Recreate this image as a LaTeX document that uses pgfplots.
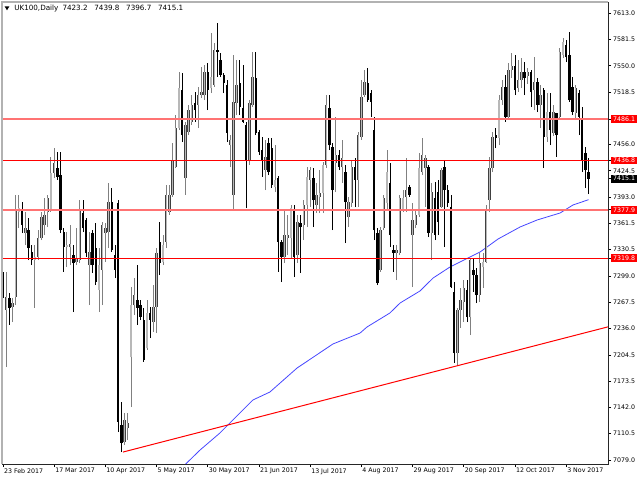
\documentclass[border=0pt]{standalone}
\usepackage{fontspec}
\usepackage{pgfplots}
\usepackage{pgfplotstable}
\pgfplotsset{compat=1.18}
\setmainfont{DejaVu Sans}
\newcommand\lf{\fontsize{4.7}{5}\selectfont}
\newcommand\tf{\fontsize{5.4}{6}\selectfont}
\newcommand\lbox[2]{{\setlength\fboxsep{1.2pt}\colorbox{#1}{\textcolor{white}{#2}}}}
\definecolor{bullc}{gray}{0.5}
\definecolor{bullin}{gray}{0.72}
\definecolor{maBlue}{RGB}{70,70,255}
\definecolor{lvl}{RGB}{255,0,0}
\definecolor{lvlp}{RGB}{255,115,115}

\pgfplotstableread{
i o h l c
1 7258.2 7303.6 7190.1 7273.7
3 7261.7 7272.5 7243.8 7266.5
4 7273.7 7395.6 7264.1 7377.6
5 7375.2 7395.6 7356.1 7380.0
7 7350.1 7375.2 7335.8 7356.1
10 7317.9 7335.8 7260.6 7321.5
11 7321.5 7353.7 7317.9 7344.2
12 7344.2 7375.2 7341.8 7369.3
13 7359.7 7392.0 7347.7 7371.7
14 7375.2 7395.6 7357.3 7392.0
15 7377.6 7441.0 7375.2 7421.8
16 7421.8 7451.7 7415.9 7433.8
20 7333.4 7351.3 7309.5 7335.8
21 7333.4 7359.7 7311.9 7337.0
23 7315.5 7356.1 7311.9 7320.3
24 7317.9 7389.6 7314.3 7377.6
27 7311.9 7351.3 7264.1 7327.5
30 7282.1 7332.2 7255.8 7311.9
31 7306.0 7363.3 7264.1 7359.7
32 7350.1 7362.1 7315.5 7356.1
33 7351.3 7409.9 7332.2 7387.2
38 7100.5 7135.1 7096.9 7126.8
39 7117.2 7135.1 7102.9 7123.2
40 7202.0 7285.6 7142.3 7264.1
41 7264.1 7296.4 7252.2 7276.1
45 7212.8 7270.1 7210.4 7254.6
47 7243.8 7288.0 7231.9 7261.7
48 7261.7 7332.2 7230.7 7326.3
50 7315.5 7347.7 7311.9 7335.8
51 7339.4 7407.5 7332.2 7395.6
52 7375.2 7407.5 7371.7 7395.6
53 7395.6 7457.7 7393.2 7437.4
54 7429.0 7491.1 7427.8 7475.6
55 7475.6 7542.5 7473.2 7523.4
57 7415.9 7482.8 7395.6 7479.2
58 7470.8 7503.1 7467.2 7497.1
59 7482.8 7515.0 7479.2 7503.1
61 7503.1 7524.6 7475.6 7515.0
62 7515.0 7548.5 7511.4 7518.6
63 7515.0 7550.9 7509.0 7542.5
65 7523.4 7589.1 7517.4 7536.5
66 7527.0 7577.1 7524.6 7568.8
71 7455.3 7467.2 7429.0 7461.3
72 7395.6 7562.8 7377.6 7506.7
73 7505.5 7556.8 7491.1 7527.0
77 7437.4 7509.0 7431.4 7505.5
78 7503.1 7566.4 7500.7 7536.5
82 7425.4 7461.3 7401.5 7441.0
85 7405.1 7455.3 7399.1 7413.5
88 7321.5 7377.6 7314.3 7347.7
89 7344.2 7371.7 7323.9 7347.7
90 7344.2 7383.6 7320.3 7380.0
92 7323.9 7371.7 7314.3 7363.3
94 7359.7 7389.6 7341.8 7383.6
95 7383.6 7429.0 7357.3 7417.1
96 7413.5 7429.0 7381.2 7425.4
98 7383.6 7409.9 7374.0 7395.6
99 7393.2 7425.4 7374.0 7397.9
100 7397.9 7435.0 7374.0 7431.4
101 7431.4 7515.0 7427.8 7503.1
104 7433.8 7488.7 7399.1 7443.3
106 7429.0 7461.3 7409.9 7439.8
108 7369.3 7393.2 7357.3 7387.2
109 7386.0 7437.4 7381.2 7429.0
111 7413.5 7470.8 7381.2 7467.2
112 7464.8 7532.9 7461.3 7512.6
113 7515.0 7544.9 7512.6 7530.5
118 7306.0 7357.3 7303.6 7353.7
119 7356.1 7395.6 7353.7 7392.0
120 7386.0 7449.3 7377.6 7423.0
123 7326.3 7335.8 7294.0 7329.9
124 7326.3 7395.6 7323.9 7392.0
125 7377.6 7401.5 7375.2 7392.0
126 7393.2 7439.8 7375.2 7401.5
128 7347.7 7386.0 7285.6 7365.7
129 7359.7 7377.6 7356.1 7371.7
130 7371.7 7445.7 7369.3 7427.8
131 7423.0 7463.7 7419.4 7443.3
132 7427.8 7443.3 7381.2 7439.8
134 7350.1 7409.9 7317.9 7399.1
137 7381.2 7427.8 7380.0 7425.4
142 7206.8 7260.6 7192.5 7258.2
143 7258.2 7284.4 7236.7 7270.1
144 7267.7 7294.0 7243.8 7284.4
146 7249.8 7320.3 7228.3 7317.9
149 7276.1 7326.3 7267.7 7314.3
150 7309.5 7326.3 7284.4 7315.5
151 7315.5 7383.6 7314.3 7377.6
152 7389.6 7441.0 7375.2 7427.8
153 7427.8 7470.8 7423.0 7464.8
155 7463.7 7515.0 7455.3 7509.0
156 7509.0 7532.9 7503.1 7524.6
158 7488.7 7553.2 7485.2 7544.9
159 7544.9 7565.2 7535.3 7549.7
161 7523.4 7556.8 7518.6 7532.9
162 7532.9 7559.2 7523.4 7542.5
164 7537.7 7547.3 7528.2 7542.5
166 7521.0 7560.4 7497.1 7530.5
168 7503.1 7527.0 7475.6 7515.0
170 7464.8 7517.4 7458.9 7494.7
172 7469.6 7503.1 7466.0 7494.7
174 7488.7 7571.2 7487.5 7566.4
175 7562.8 7583.1 7559.2 7578.3
179 7493.5 7527.0 7487.5 7523.4
}\bull

\pgfplotstableread{
i o h l c
0 7303.6 7311.9 7228.3 7272.5
2 7272.5 7278.5 7240.3 7260.6
6 7377.6 7387.2 7350.1 7359.7
8 7353.7 7368.1 7317.9 7332.2
9 7327.5 7335.8 7311.9 7317.9
17 7427.8 7446.9 7413.5 7417.1
18 7419.4 7446.9 7350.1 7353.7
19 7351.3 7356.1 7303.6 7333.4
22 7323.9 7335.8 7255.8 7314.3
25 7374.0 7389.6 7351.3 7356.1
26 7365.7 7368.1 7321.5 7326.3
28 7350.1 7353.7 7302.4 7311.9
29 7332.2 7362.1 7288.0 7291.6
34 7387.2 7403.9 7327.5 7329.9
35 7323.9 7335.8 7296.4 7306.0
36 7386.0 7389.6 7112.4 7124.4
37 7120.8 7148.3 7088.5 7099.3
42 7270.1 7311.9 7240.3 7260.6
43 7264.1 7270.1 7246.2 7249.8
44 7246.2 7260.6 7196.1 7198.5
46 7254.6 7261.7 7224.7 7246.2
49 7339.4 7363.3 7300.0 7314.3
56 7521.0 7541.3 7458.9 7467.2
60 7505.5 7518.6 7482.8 7497.1
64 7542.5 7553.2 7497.1 7521.0
67 7568.8 7601.0 7536.5 7566.4
68 7556.8 7565.2 7536.5 7538.9
69 7538.9 7541.3 7517.4 7529.3
70 7527.0 7532.9 7458.9 7469.6
74 7529.3 7556.8 7491.1 7500.7
75 7499.5 7550.9 7481.6 7482.8
76 7479.2 7482.8 7380.0 7437.4
79 7535.3 7566.4 7467.2 7469.6
80 7470.8 7473.2 7443.3 7446.9
81 7449.3 7464.8 7417.1 7437.4
83 7457.7 7463.7 7419.4 7423.0
84 7451.7 7463.7 7403.9 7407.5
86 7415.9 7418.3 7303.6 7339.4
87 7339.4 7341.8 7291.6 7321.5
91 7377.6 7383.6 7297.6 7321.5
93 7362.1 7371.7 7302.4 7357.3
97 7415.9 7427.8 7357.3 7389.6
102 7499.5 7515.0 7449.3 7455.3
103 7452.9 7457.7 7353.7 7401.5
105 7443.3 7449.3 7425.4 7429.0
107 7423.0 7431.4 7338.2 7387.2
110 7429.0 7439.8 7381.2 7413.5
114 7529.3 7547.3 7506.7 7509.0
115 7517.4 7521.0 7488.7 7506.7
116 7473.2 7488.7 7341.8 7353.7
117 7350.1 7356.1 7288.0 7290.4
121 7409.9 7433.8 7333.4 7347.7
122 7329.9 7335.8 7303.6 7326.3
127 7405.1 7407.5 7393.2 7395.6
133 7429.0 7431.4 7345.4 7350.1
135 7392.0 7411.1 7341.8 7347.7
136 7399.1 7413.5 7347.7 7363.3
138 7429.0 7437.4 7333.4 7401.5
139 7401.5 7407.5 7381.2 7386.0
140 7381.2 7395.6 7284.4 7285.6
141 7279.7 7291.6 7194.9 7206.8
145 7282.1 7294.0 7243.8 7249.8
147 7306.0 7320.3 7279.7 7300.0
148 7300.0 7308.3 7266.5 7276.1
154 7467.2 7475.6 7451.7 7463.7
157 7524.6 7538.9 7482.8 7488.7
160 7549.7 7562.8 7515.0 7521.0
163 7542.5 7554.4 7515.0 7535.3
165 7542.5 7544.9 7500.7 7518.6
167 7530.5 7535.3 7494.7 7503.1
169 7521.0 7523.4 7427.8 7464.8
171 7494.7 7517.4 7455.3 7473.2
173 7493.5 7493.5 7441.0 7467.2
176 7574.7 7580.7 7554.4 7560.4
177 7562.8 7590.3 7506.7 7509.0
178 7524.6 7536.5 7491.1 7494.7
180 7517.4 7521.0 7467.2 7488.7
181 7487.5 7500.7 7423.0 7437.4
182 7445.7 7452.9 7403.9 7425.4
183 7423.2 7439.8 7396.7 7415.1
}\bear

\begin{document}
\begin{tikzpicture}
\useasboundingbox (0,0) rectangle (480pt,360pt);
\begin{axis}[name=ax, at={(1.5pt,12pt)}, anchor=south west,
  scale only axis, width=454.5pt, height=346.5pt,
  xmin=-0.3125, xmax=189.0625, ymin=7074.22, ymax=7626.14,
  axis line style={draw=none},
  tick align=outside, xtick pos=bottom, ytick pos=right, yticklabel pos=right,
  major tick length=2.4pt, tick style={black, line width=0.5pt},
  xtick={0,16,...,176},
  xticklabels={23 Feb 2017,17 Mar 2017,10 Apr 2017,5 May 2017,30 May 2017,21 Jun 2017,13 Jul 2017,4 Aug 2017,29 Aug 2017,20 Sep 2017,12 Oct 2017,3 Nov 2017},
  ytick={7079,7110.5,7142,7173.5,7204.5,7236,7267.5,7299,7330.5,7361.5,7393,7424.5,7456,7518.5,7550,7581.5,7613},
  yticklabels={7079.0,7110.5,7142.0,7173.5,7204.5,7236.0,7267.5,7299.0,7330.5,7361.5,7393.0,7424.5,7456.0,7518.5,7550.0,7581.5,7613.0},
  extra y ticks={7486.1,7436.8,7415.1,7377.9,7319.8},
  extra y tick labels={\lbox{red}{7486.1},\lbox{red}{7436.8},\lbox{black}{7415.1},\lbox{red}{7377.9},\lbox{red}{7319.8}},
  tick label style={font=\lf, inner sep=0pt},
  xticklabel style={anchor=north west, xshift=0.6pt, yshift=-0.6pt},
  yticklabel style={anchor=west, xshift=1.2pt},
  extra y tick style={grid=none, yticklabel style={xshift=-1.2pt}},
  clip=true,
]
% moving average
\addplot[maBlue, line width=0.6pt, forget plot] coordinates {
(56.5,7072) (61.6,7091.0) (67.8,7111.3) (70.9,7123.2) (78.1,7150.7) (83.4,7160.2)
(91.9,7188.9) (103.1,7217.6) (111.6,7230.7) (113.75,7237.9) (120.9,7254.6) (124.1,7266.6)
(130.3,7280.9) (134.4,7296.4) (139.7,7309.6) (145.9,7321.5) (149.1,7327.5) (154.7,7343.0)
(161.6,7357.4) (166.9,7365.7) (174.1,7374.1) (178.1,7383.6) (183,7390.0)};
% bull wicks and bodies
\addplot[draw=none, mark=none, forget plot,
  error bars/.cd, y dir=plus, y explicit, error mark=none,
  error bar style={draw=bullc, line width=0.75pt}]
  table[x=i, y=l, y error plus expr={\thisrow{h}-\thisrow{l}}] {\bull};
\addplot[draw=none, mark=none, forget plot,
  error bars/.cd, y dir=plus, y explicit, error mark=none,
  error bar style={draw=black!75, line width=1.9pt}]
  table[x=i, y=o, y error plus expr={max(\thisrow{c}-\thisrow{o},0.8)}] {\bull};
\addplot[draw=none, mark=none, forget plot,
  error bars/.cd, y dir=plus, y explicit, error mark=none,
  error bar style={draw=bullin, line width=0.8pt}]
  table[x=i, y=o, y error plus expr={max(\thisrow{c}-\thisrow{o},0.8)}] {\bull};
% bear wicks and bodies
\addplot[draw=none, mark=none, forget plot,
  error bars/.cd, y dir=plus, y explicit, error mark=none,
  error bar style={draw=black, line width=0.75pt}]
  table[x=i, y=l, y error plus expr={\thisrow{h}-\thisrow{l}}] {\bear};
\addplot[draw=none, mark=none, forget plot,
  error bars/.cd, y dir=plus, y explicit, error mark=none,
  error bar style={draw=black, line width=1.9pt}]
  table[x=i, y=c, y error plus expr={max(\thisrow{o}-\thisrow{c},0.8)}] {\bear};
% horizontal levels (over the candles)
\addplot[lvlp, line width=1.5pt, yshift=0.15pt, forget plot] coordinates {(-1,7486.1) (190,7486.1)};
\addplot[lvl, line width=0.75pt, forget plot] coordinates {(-1,7436.8) (190,7436.8)};
\addplot[lvlp, line width=1.5pt, yshift=-0.15pt, forget plot] coordinates {(-1,7377.9) (190,7377.9)};
\addplot[lvl, line width=0.75pt, forget plot] coordinates {(-1,7319.8) (190,7319.8)};
% trend line
\addplot[lvl, line width=0.75pt, forget plot] coordinates {(37.5,7088.5) (189.5,7238.5)};
\end{axis}
\draw[gray!60, line width=1.3pt] (ax.south west) -- (ax.north west) -- (ax.north east);
\draw[black!85, line width=0.6pt] (ax.south west) -- (ax.south east) -- (ax.north east);
\fill (3.4pt,355.3pt) -- (7.1pt,355.3pt) -- (5.25pt,352.3pt) -- cycle;
\node[anchor=base west, inner sep=0pt, font=\tf] at (10.5pt,352pt) {UK100,Daily\hspace{3pt}7423.2\hspace{5pt}7439.8\hspace{5pt}7396.7\hspace{5pt}7415.1};
\end{tikzpicture}
\end{document}
